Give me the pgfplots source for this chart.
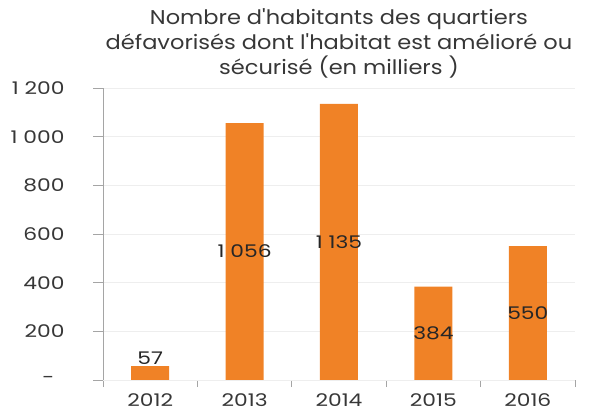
\documentclass[border=0pt]{standalone}
\usepackage{fontspec}
\setmainfont{Poppins}
\newfontfamily\ticksfont[FakeStretch=1.25]{Poppins}
\newfontfamily\titlefont[FakeStretch=1.13]{Poppins}
\usepackage{pgfplots}
\pgfplotsset{compat=1.18}
\definecolor{barorange}{RGB}{240,130,38}
\definecolor{axisgray}{RGB}{165,165,165}
\definecolor{gridgray}{RGB}{238,238,238}
\definecolor{txt}{RGB}{55,55,55}
\begin{document}
\begin{tikzpicture}
\useasboundingbox (0,0) rectangle (592bp,414bp);
\begin{axis}[
  at={(103bp,34bp)}, anchor=south west,
  scale only axis,
  width=472bp, height=292bp,
  xmin=-0.5, xmax=4.5,
  ymin=0, ymax=1200,
  axis x line*=bottom, axis y line*=left,
  axis line style={axisgray, line width=0.9pt},
  tick align=outside,
  xtick={0,1,2,3,4},
  xticklabels={2012,2013,2014,2015,2016},
  minor xtick={-0.5,0.5,1.5,2.5,3.5,4.5},
  major x tick style={draw=none},
  minor x tick style={axisgray, line width=0.9pt},
  minor tick length=7bp,
  ytick={200,400,600,800,1000,1200},
  yticklabels={200,400,600,800,1 000,1 200},
  extra y ticks={0},
  extra y tick labels={-},
  extra y tick style={yticklabel style={xshift=-10bp}},
  y tick style={axisgray, line width=0.9pt},
  major tick length=10bp,
  ymajorgrids,
  grid style={gridgray, line width=0.8pt},
  tick label style={font=\ticksfont\fontsize{17.5}{20}\selectfont, text=txt},
  yticklabel style={xshift=-25bp},
  title={Nombre d'habitants des quartiers\\défavorisés dont l'habitat est amélioré ou\\sécurisé (en milliers~)},
  title style={align=center, font=\titlefont\fontsize{20}{25}\selectfont, text=txt, yshift=0bp},
]
\addplot[ybar, bar width=38bp, fill=barorange, draw=none]
  coordinates {(0,57) (1,1056) (2,1135) (3,384) (4,550)};
\addplot[draw=none, mark=none, point meta=explicit symbolic,
  nodes near coords, nodes near coords align={center},
  every node near coord/.append style={font=\ticksfont\fontsize{17.5}{20}\selectfont, text=black!85}]
  coordinates {(1,528)[{1 056}] (2,567.5)[{1 135}] (3,192)[384] (4,275)[550]};
\addplot[draw=none, mark=none, point meta=explicit symbolic,
  nodes near coords, nodes near coords align={above},
  every node near coord/.append style={font=\ticksfont\fontsize{17.5}{20}\selectfont, text=black!85, inner sep=1pt}]
  coordinates {(0,57)[57]};
\end{axis}
\end{tikzpicture}
\end{document}
